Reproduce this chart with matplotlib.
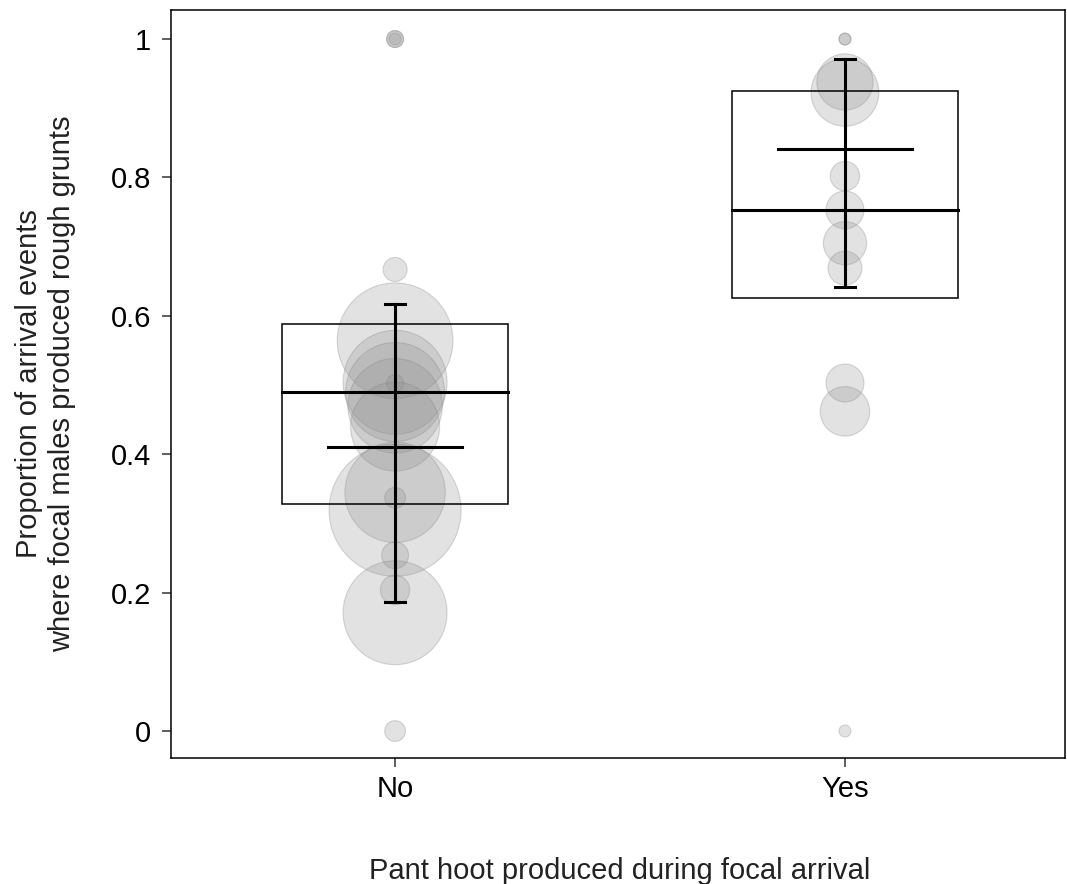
import numpy as np
import matplotlib
matplotlib.use("Agg")
from matplotlib import pyplot as plt
from matplotlib.patches import Rectangle

plt.rcParams['font.family'] = ['Liberation Sans', 'DejaVu Sans']

groups = ["No", "Yes"]

# per-male proportions and number of arrival events (bubble size)
no_prop = [1.0, 1.0, 1.0, 0.667, 0.564, 0.504, 0.49, 0.47, 0.44, 0.503,
           0.345, 0.319, 0.337, 0.254, 0.204, 0.171, 0.0]
no_n = [2, 2, 1, 4, 93, 75, 68, 62, 55, 2, 70, 121, 3, 5, 6, 75, 3]

yes_prop = [1.0, 1.0, 0.923, 0.938, 0.802, 0.753, 0.705, 0.669, 0.503, 0.462, 0.0]
yes_n = [1, 1, 32, 22, 6, 10, 13, 8, 10, 17, 1]

# summary stats per group
q1 = [0.328, 0.626]
median = [0.490, 0.753]
q3 = [0.588, 0.925]
mean = [0.410, 0.841]
ci_low = [0.186, 0.642]
ci_high = [0.617, 0.971]

fig = plt.figure(figsize=(10.67, 8.84), dpi=100)
ax = fig.add_axes([0.1603, 0.1425, 0.8378, 0.8462])

pt_per_px = 72 / 100
for i, (props, ns) in enumerate([(no_prop, no_n), (yes_prop, yes_n)]):
    x = np.full(len(props), i + 1)
    r_px = 6 * np.sqrt(np.array(ns))
    s = (2 * r_px * pt_per_px) ** 2
    ax.scatter(x, props, s=s, facecolor=(0.55, 0.55, 0.55, 0.25),
               edgecolor=(0.5, 0.5, 0.5, 0.3), linewidth=0.8, zorder=1)

lw = 2.2
for i in range(len(groups)):
    xc = i + 1
    ax.add_patch(Rectangle((xc - 0.252, q1[i]), 0.504, q3[i] - q1[i],
                           fill=False, edgecolor="black", linewidth=1.1, zorder=3))
    ax.plot([xc - 0.252, xc + 0.252], [median[i], median[i]], color="black", lw=lw, zorder=4)
    ax.plot([xc - 0.149, xc + 0.149], [mean[i], mean[i]], color="black", lw=lw, zorder=4)
    ax.plot([xc, xc], [ci_low[i], ci_high[i]], color="black", lw=lw, zorder=4)
    for yv in (ci_low[i], ci_high[i]):
        ax.plot([xc - 0.023, xc + 0.023], [yv, yv], color="black", lw=lw, zorder=4)

ax.set_xlim(0.502, 2.489)
ax.set_ylim(-0.039, 1.042)
ax.set_xticks([1, 2])
ax.set_xticklabels(groups)
ax.set_yticks([0, 0.2, 0.4, 0.6, 0.8, 1.0])
ax.set_yticklabels(["0", "0.2", "0.4", "0.6", "0.8", "1"])
ax.tick_params(axis="both", labelsize=21, length=6.5, width=1.1, color="#333333")
ax.tick_params(axis="y", pad=8)
ax.tick_params(axis="x", pad=6)
for sp in ax.spines.values():
    sp.set_linewidth(1.1)
    sp.set_color("black")

ax.set_xlabel("Pant hoot produced during focal arrival", fontsize=21, color="#222222")
ax.xaxis.set_label_coords(0.502, -0.151)
ax.set_ylabel("Proportion of arrival events\nwhere focal males produced rough grunts",
              fontsize=21, color="#222222", linespacing=1.25)
ax.yaxis.set_label_coords(-0.1404, 0.5)
ax.xaxis.label.set_va("center")
ax.yaxis.label.set_va("center")

fig.savefig("out.png", dpi=100)
